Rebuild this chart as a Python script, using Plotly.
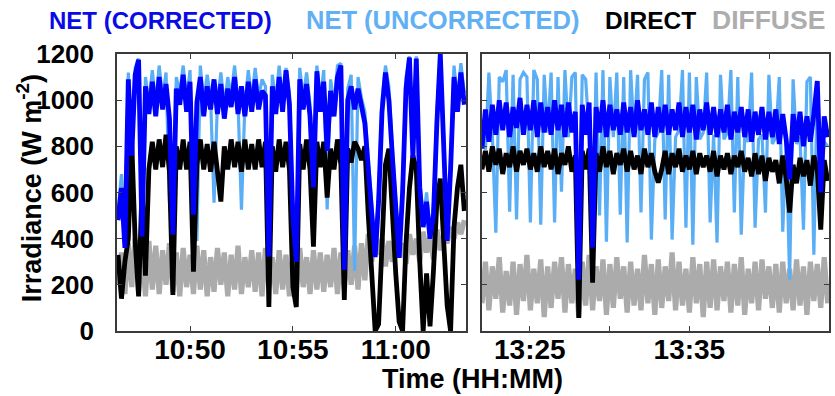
import pandas as pd
import plotly.graph_objects as go

# ---------------- data (W m^-2) ----------------
# Left panel: samples every 10 s starting 10:46:30
left_start = "2015-06-01 10:46:30"
left_freq = "10s"
net_corr_L = [480, 620, 360, 1090, 760, 1110, 1175, 410, 1060, 940,
              1080, 930, 1100, 960, 1070, 920, 417, 1050, 980, 1110,
              950, 1080, 504, 990, 1100, 930, 1060, 960, 1090, 940,
              1070, 920, 1050, 970, 1100, 940, 1060, 930, 1080, 950,
              1090, 960, 1040, 1020, 322, 1060, 940, 1100, 950, 1130,
              980, 496, 300, 1090, 960, 1070, 930, 622, 1125, 950,
              1080, 780, 1040, 930, 1100, 1150, 265, 1000, 1060, 960,
              1050, 960, 900, 700, 480, 320, 560, 950, 1120, 1000,
              760, 500, 317, 600, 1050, 1185, 750, 1180, 620, 450,
              560, 400, 500, 900, 1200, 800, 390, 700, 1100, 950, 1120, 980]
net_unc_L = [520, 680, 420, 1120, 800, 1140, 1180, 450, 1100, 990,
             1130, 980, 1150, 1010, 1120, 556, 430, 1100, 1030, 1150,
             1000, 1130, 520, 390, 1150, 990, 1110, 1010, 556, 990,
             1120, 970, 1100, 1020, 1150, 990, 526, 980, 1130, 1000,
             1140, 1010, 1090, 1060, 340, 1110, 990, 1150, 1000, 1140,
             1030, 520, 320, 1140, 1010, 1120, 980, 640, 1150, 1000,
             1130, 526, 1090, 980, 1150, 1160, 280, 1050, 1110, 260,
             1100, 1010, 950, 750, 520, 350, 600, 1000, 1150, 1060,
             800, 540, 340, 640, 1100, 1190, 800, 1190, 660, 480,
             600, 430, 540, 950, 1200, 840, 420, 740, 1150, 1000, 1160, 1030]
direct_L = [330, 140, 300, 400, 820, 390, 150, 620, 240, 700,
            820, 700, 830, 710, 850, 690, 156, 800, 700, 830,
            700, 820, 257, 720, 830, 700, 810, 690, 820, 710,
            561, 800, 700, 830, 710, 820, 690, 830, 700, 810,
            700, 830, 710, 820, 104, 800, 690, 830, 710, 820,
            700, 191, 104, 810, 700, 830, 700, 365, 820, 710,
            820, 578, 790, 700, 830, 720, 135, 790, 730, 820,
            790, 740, 800, 500, 220, 0, 30, 420, 720, 790,
            500, 250, 40, 0, 380, 620, 760, 700, 300, 0,
            250, 20, 260, 560, 660, 380, 110, 0, 450, 620, 720, 520]
diffuse_L = [200, 340, 160, 380, 190, 400, 170, 360, 150, 390,
             180, 370, 160, 350, 200, 380, 170, 340, 150, 360,
             190, 330, 160, 370, 180, 350, 150, 320, 170, 360,
             200, 340, 150, 330, 180, 370, 160, 320, 190, 350,
             170, 340, 150, 360, 190, 320, 160, 350, 180, 330,
             150, 340, 170, 360, 190, 320, 160, 350, 180, 340,
             170, 330, 190, 360, 160, 340, 180, 350, 200, 370,
             180, 380, 220, 420, 300, 430, 330, 400, 280, 390,
             300, 410, 320, 380, 290, 420, 330, 400, 300, 430,
             340, 410, 310, 440, 350, 420, 380, 450, 400, 470, 420, 480]

# Right panel: samples every 13 s starting 13:22:00
right_start = "2015-06-01 13:22:00"
right_freq = "13s"
net_corr_R = [790, 960, 820, 980, 850, 1000, 870, 990, 840, 970,
              880, 1010, 850, 980, 870, 1000, 840, 990, 860, 970,
              850, 1000, 870, 980, 840, 990, 860, 950, 222, 980,
              850, 990, 361, 970, 860, 1000, 840, 980, 870, 960,
              850, 990, 860, 970, 840, 1000, 870, 960, 850, 990,
              840, 970, 860, 980, 850, 960, 870, 990, 840, 970,
              860, 980, 830, 960, 870, 990, 850, 970, 840, 960,
              860, 980, 830, 950, 860, 970, 840, 960, 820, 950,
              850, 970, 830, 950, 840, 960, 810, 940, 830, 657,
              940, 820, 950, 800, 930, 820, 940, 1083, 600, 930, 840]
net_unc_R = [830, 786, 1120, 850, 426, 1100, 1080, 1130, 517, 1110,
             483, 1090, 1120, 1100, 470, 1130, 1090, 461, 1110, 860,
             1120, 470, 1100, 604, 1130, 840, 1100, 1120, 260, 1110,
             1090, 850, 380, 1120, 500, 1130, 387, 1100, 840, 1120,
             504, 1100, 383, 1130, 850, 1110, 513, 1090, 1120, 396,
             830, 860, 1130, 483, 1110, 396, 840, 870, 1130, 448,
             1120, 374, 1100, 830, 860, 1120, 470, 850, 383, 1110,
             830, 860, 1130, 513, 1100, 417, 840, 820, 1120, 448,
             830, 850, 513, 1110, 810, 840, 1100, 430, 820, 222,
             1090, 810, 840, 439, 1080, 1100, 330, 1060, 580, 820, 800]
direct_R = [700, 780, 690, 800, 720, 790, 680, 770, 710, 800,
            690, 780, 720, 790, 700, 770, 690, 800, 710, 780,
            700, 790, 680, 770, 720, 800, 690, 760, 57, 780,
            700, 790, 209, 770, 690, 800, 710, 780, 680, 770,
            720, 790, 690, 780, 700, 760, 680, 790, 710, 770,
            690, 643, 700, 780, 680, 770, 710, 790, 690, 760,
            700, 780, 680, 770, 710, 760, 690, 780, 670, 760,
            700, 770, 680, 760, 710, 780, 690, 750, 670, 770,
            680, 760, 650, 750, 690, 740, 640, 760, 660, 513,
            720, 640, 750, 670, 740, 630, 760, 700, 439, 740, 650]
diffuse_R = [120, 300, 90, 280, 140, 320, 80, 260, 110, 300,
             70, 290, 130, 330, 90, 270, 120, 310, 60, 280,
             100, 300, 140, 320, 80, 290, 120, 270, 60, 300,
             110, 330, 90, 280, 130, 310, 70, 290, 100, 320,
             140, 280, 80, 300, 110, 270, 90, 330, 120, 290,
             70, 310, 100, 280, 130, 340, 90, 300, 110, 270,
             80, 320, 120, 290, 60, 300, 100, 310, 90, 280,
             130, 300, 80, 290, 110, 320, 70, 270, 120, 300,
             90, 310, 140, 280, 100, 290, 80, 300, 120, 270,
             90, 310, 110, 280, 70, 300, 130, 290, 100, 320, 120]

# axis ranges and ticks
left_range = ["2015-06-01 10:46:27", "2015-06-01 11:03:25"]
right_range = ["2015-06-01 13:22:00", "2015-06-01 13:43:45"]
left_tickvals = ["2015-06-01 10:50:00", "2015-06-01 10:55:00", "2015-06-01 11:00:00"]
left_ticktext = ["10:50", "10:55", "11:00"]
right_tickvals = ["2015-06-01 13:25:00", "2015-06-01 13:35:00"]
right_ticktext = ["13:25", "13:35"]
right_minor_ticks = ["2015-06-01 13:30:00", "2015-06-01 13:40:00"]
y_tickvals = [0, 200, 400, 600, 800, 1000, 1200]

C_CORR = "#0000FF"
C_UNC = "#5AAEF5"
C_DIR = "#000000"
C_DIF = "#ABABAB"

tL = pd.date_range(left_start, periods=len(net_corr_L), freq=left_freq)
tR = pd.date_range(right_start, periods=len(net_corr_R), freq=right_freq)

fig = go.Figure()
for t, dif, unc, dirc, corr, xa, ya in [
    (tL, diffuse_L, net_unc_L, direct_L, net_corr_L, "x", "y"),
    (tR, diffuse_R, net_unc_R, direct_R, net_corr_R, "x2", "y2"),
]:
    for vals, col, w in [(dif, C_DIF, 5.2), (unc, C_UNC, 3.2), (dirc, C_DIR, 4.8), (corr, C_CORR, 4.8)]:
        fig.add_trace(go.Scatter(x=t, y=vals, mode="lines", xaxis=xa, yaxis=ya,
                                 line=dict(color=col, width=w), showlegend=False,
                                 hoverinfo="skip"))

L, R, T, B = 117, 4, 54, 65
W, H = 835, 396
PW, PH = W - L - R, H - T - B


def px(x):
    return (x - L) / PW


def py(y):
    return (H - B - y) / PH


def axis_common(size):
    return dict(showline=True, linecolor="#3a3a3a", linewidth=1.5, mirror="ticks",
                ticks="inside", ticklen=5, tickwidth=1.2, tickcolor="#3a3a3a",
                showgrid=False, zeroline=False,
                tickfont=dict(family="Liberation Sans", size=size, color="black", weight="bold"))


fig.update_layout(
    width=W, height=H, margin=dict(l=L, r=R, t=T, b=B),
    paper_bgcolor="white", plot_bgcolor="white",
    xaxis=dict(domain=[0, px(467)], range=left_range, type="date", anchor="y",
               tickvals=left_tickvals, ticktext=left_ticktext, ticklabelstandoff=-7,
               **axis_common(28)),
    xaxis2=dict(domain=[px(483), 1], range=right_range, type="date", anchor="y2",
                tickvals=right_tickvals, ticktext=right_ticktext, ticklabelstandoff=-7,
                minor=dict(tickvals=right_minor_ticks, ticks="inside", ticklen=5,
                           tickwidth=1.2, tickcolor="#3a3a3a", showgrid=False),
                **axis_common(28)),
    yaxis=dict(range=[0, 1200], tickvals=y_tickvals, anchor="x", ticklabelstandoff=16,
               **axis_common(26)),
    yaxis2=dict(range=[0, 1200], tickvals=y_tickvals, anchor="x2", showticklabels=False,
                **axis_common(26)),
)

legend_items = [("NET (CORRECTED)", "#0A0AE6", 47, 24), ("NET (UNCORRECTED)", "#62B0F4", 305, 25.5),
                ("DIRECT", "#000000", 604, 24.5), ("DIFFUSE", "#ADADAD", 712, 26.5)]
for text, col, x0, fs in legend_items:
    fig.add_annotation(text=text, xref="paper", yref="paper", x=px(x0), y=py(20),
                       xanchor="left", yanchor="middle", showarrow=False,
                       font=dict(family="Liberation Sans", size=fs, weight="bold", color=col))

fig.add_annotation(text="Time (HH:MM)", xref="paper", yref="paper", x=px(473), y=py(379),
                   xanchor="center", yanchor="middle", showarrow=False,
                   font=dict(family="Liberation Sans", size=27, weight="bold", color="black"))
fig.add_annotation(text="Irradiance (W m<sup>-2</sup>)", xref="paper", yref="paper",
                   x=px(29), y=py(188), textangle=-90, xanchor="center", yanchor="middle",
                   showarrow=False,
                   font=dict(family="Liberation Sans", size=27, weight="bold", color="black"))

fig.write_html("out.html")
